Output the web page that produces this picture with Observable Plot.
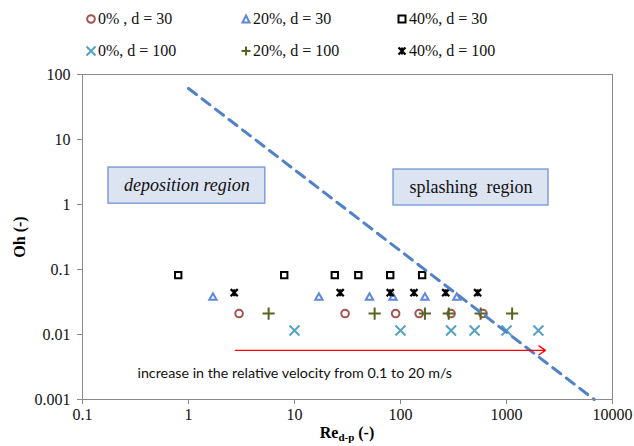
<!DOCTYPE html>
<html><head><meta charset="utf-8">
<script src="https://cdn.jsdelivr.net/npm/d3@7"></script>
<script src="https://cdn.jsdelivr.net/npm/@observablehq/plot@0.6"></script>
<style>
body{margin:0;background:#fff;}
#wrap{position:relative;width:634px;height:446px;overflow:hidden;}
#legend{position:absolute;left:0;top:0;width:634px;height:70px;font-family:"Liberation Serif",serif;font-size:16px;color:#111;}
.item{position:absolute;white-space:nowrap;line-height:16px;transform:translateY(-50%);}
.item svg{vertical-align:middle;margin-right:1px;position:relative;top:-1px;}
#xlabel{position:absolute;left:0;width:694px;text-align:center;top:424px;font-family:"Liberation Serif",serif;font-size:16px;font-weight:bold;}
#xlabel sub{font-size:11px;vertical-align:-3px;}
#ylabel{position:absolute;left:20px;top:237px;transform:translate(-50%,-50%) rotate(-90deg);font-family:"Liberation Serif",serif;font-size:16px;font-weight:bold;white-space:nowrap;}
g[aria-label="x-axis tick"] path, g[aria-label="y-axis tick"] path{stroke:#8a8a8a;}
</style>
</head><body>
<div id="wrap"></div>
<script>
// ---- data ----
const xTicks = [0.1, 1, 10, 100, 1000, 10000];
const yTicks = [0.001, 0.01, 0.1, 1, 10, 100];

const re_0_d30   = [3, 30, 90, 150, 300, 600];
const oh_0_d30   = [0.021, 0.021, 0.021, 0.021, 0.021, 0.021];
const re_20_d30  = [1.7, 17, 51, 85, 170, 340];
const oh_20_d30  = [0.037, 0.037, 0.037, 0.037, 0.037, 0.037];
const re_40_d30  = [0.8, 8, 24, 40, 80, 160];
const oh_40_d30  = [0.082, 0.082, 0.082, 0.082, 0.082, 0.082];
const re_0_d100  = [10, 100, 300, 500, 1000, 2000];
const oh_0_d100  = [0.0115, 0.0115, 0.0115, 0.0115, 0.0115, 0.0115];
const re_20_d100 = [5.7, 57, 170, 285, 570, 1130];
const oh_20_d100 = [0.021, 0.021, 0.021, 0.021, 0.021, 0.021];
const re_40_d100 = [2.7, 27, 80, 134, 267, 534];
const oh_40_d100 = [0.044, 0.044, 0.044, 0.044, 0.044, 0.044];

const seriesNames = ["0% , d = 30", "20%, d = 30", "40%, d = 30", "0%, d = 100", "20%, d = 100", "40%, d = 100"];

// splashing / deposition boundary (dashed line)
const boundaryRe = [1, 6730];
const boundaryOh = [61, 0.001];

// red arrow
const arrowRe = [2.77, 2330];
const arrowOh = [0.0057, 0.0057];
const noteText = ["increase in the relative velocity from 0.1 to 20 m/s"];
const noteRe = [0.33];
const noteOh = [0.0025];

// region boxes
const regionLabels = ["deposition region", "splashing  region"];
const regionRe1 = [0.176, 86];
const regionRe2 = [5.3, 2490];
const regionOh1 = [1.03, 0.966];
const regionOh2 = [3.7, 3.45];
const regionItalic = [true, false];

// ---- build ----
const mk = (re, oh) => re.map((r, i) => ({re: r, oh: oh[i]}));
const starSymbol = {
  draw(ctx, size) {
    const s = Math.sqrt(size) * 0.5;
    ctx.moveTo(-s, -s); ctx.lineTo(s, s);
    ctx.moveTo(s, -s); ctx.lineTo(-s, s);
    ctx.moveTo(0, -s); ctx.lineTo(0, s);
  }
};
const styles = [
  {data: mk(re_0_d30, oh_0_d30), symbol: "circle", stroke: "#a5504d", r: 3.8, sw: 2},
  {data: mk(re_20_d30, oh_20_d30), symbol: "triangle", stroke: "#5f88d8", r: 2.7, sw: 2},
  {data: mk(re_40_d30, oh_40_d30), symbol: "square", stroke: "#000", r: 3.6, sw: 2},
  {data: mk(re_0_d100, oh_0_d100), symbol: "times", stroke: "#55a2c4", r: 4.6, sw: 2},
  {data: mk(re_20_d100, oh_20_d100), symbol: "plus", stroke: "#56661f", r: 4, sw: 2},
  {data: mk(re_40_d100, oh_40_d100), symbol: starSymbol, stroke: "#000", r: 4, sw: 2.2}
];

const regions = regionLabels.map((t, i) => ({t, x1: regionRe1[i], x2: regionRe2[i], y1: regionOh1[i], y2: regionOh2[i],
  cx: Math.sqrt(regionRe1[i] * regionRe2[i]), cy: Math.sqrt(regionOh1[i] * regionOh2[i]), it: regionItalic[i]}));

const plot = Plot.plot({
  width: 634, height: 446,
  marginLeft: 82, marginRight: 22, marginTop: 74, marginBottom: 47,
  style: {fontFamily: "Liberation Serif, serif", fontSize: "16px", color: "#111", background: "transparent", overflow: "visible"},
  x: {type: "log", domain: [0.1, 10000], ticks: xTicks, tickFormat: d => String(d), tickSize: 5, tickPadding: 4, label: null},
  y: {type: "log", domain: [0.001, 100], ticks: yTicks, tickFormat: d => String(d), tickSize: 5, tickPadding: 7, label: null},
  marks: [
    Plot.rect(regions, {x1: "x1", x2: "x2", y1: "y1", y2: "y2", fill: "#dce3f1", stroke: "#7fa0da", strokeWidth: 1.5}),
    Plot.text(regions.filter(d => d.it), {x: "cx", y: "cy", text: "t", fontSize: 18, fontStyle: "italic", fill: "#111"}),
    Plot.text(regions.filter(d => !d.it), {x: "cx", y: "cy", text: "t", fontSize: 18, fill: "#111"}),
    ...styles.map(s => Plot.dot(s.data, {x: "re", y: "oh", symbol: () => s.symbol, r: s.r, stroke: s.stroke, strokeWidth: s.sw, fill: "none"})),
    Plot.line(boundaryRe.map((r, i) => ({re: r, oh: boundaryOh[i]})), {x: "re", y: "oh", stroke: "#5181c6", strokeWidth: 3, strokeDasharray: "10,7"}),
    Plot.arrow([{x1: arrowRe[0], x2: arrowRe[1], y1: arrowOh[0], y2: arrowOh[1]}], {x1: "x1", y1: "y1", x2: "x2", y2: "y2", stroke: "#ff0000", strokeWidth: 1.3, headLength: 9, headAngle: 70}),
    Plot.text(noteText.map((t, i) => ({t, re: noteRe[i], oh: noteOh[i]})), {x: "re", y: "oh", text: "t", textAnchor: "start", fontFamily: "Lato, sans-serif", fontSize: 14.3, fill: "#111"}),
    Plot.frame({stroke: "#8a8a8a"})
  ]
});

const wrap = document.getElementById("wrap");
wrap.appendChild(plot);

// legend
const legendSvgs = [
  '<svg width="12" height="12"><circle cx="6" cy="6" r="3.8" fill="none" stroke="#a5504d" stroke-width="2"/></svg>',
  '<svg width="12" height="12"><polygon points="6,2.5 9.5,9.5 2.5,9.5" fill="none" stroke="#5f88d8" stroke-width="2"/></svg>',
  '<svg width="12" height="12"><rect x="2.5" y="2.5" width="7" height="7" fill="none" stroke="#000" stroke-width="2"/></svg>',
  '<svg width="12" height="12"><path d="M1.5,1.5L10.5,10.5M10.5,1.5L1.5,10.5" stroke="#55a2c4" stroke-width="2"/></svg>',
  '<svg width="12" height="12"><path d="M6,1.5V10.5M1.5,6H10.5" stroke="#56661f" stroke-width="2"/></svg>',
  '<svg width="12" height="12"><path d="M2.5,2.5L9.5,9.5M9.5,2.5L2.5,9.5M6,2.5V9.5" stroke="#000" stroke-width="2.2"/></svg>'
];
const legendX = [85, 240, 396];
const legendY = [19, 51];
const legend = document.createElement("div");
legend.id = "legend";
seriesNames.forEach((name, i) => {
  const el = document.createElement("div");
  el.className = "item";
  el.style.left = legendX[i % 3] + "px";
  el.style.top = legendY[Math.floor(i / 3)] + "px";
  el.innerHTML = legendSvgs[i] + name;
  legend.appendChild(el);
});
wrap.appendChild(legend);

const xl = document.createElement("div");
xl.id = "xlabel";
xl.innerHTML = "Re<sub>d-p</sub> (-)";
wrap.appendChild(xl);
const yl = document.createElement("div");
yl.id = "ylabel";
yl.textContent = "Oh (-)";
wrap.appendChild(yl);
</script>
</body></html>
